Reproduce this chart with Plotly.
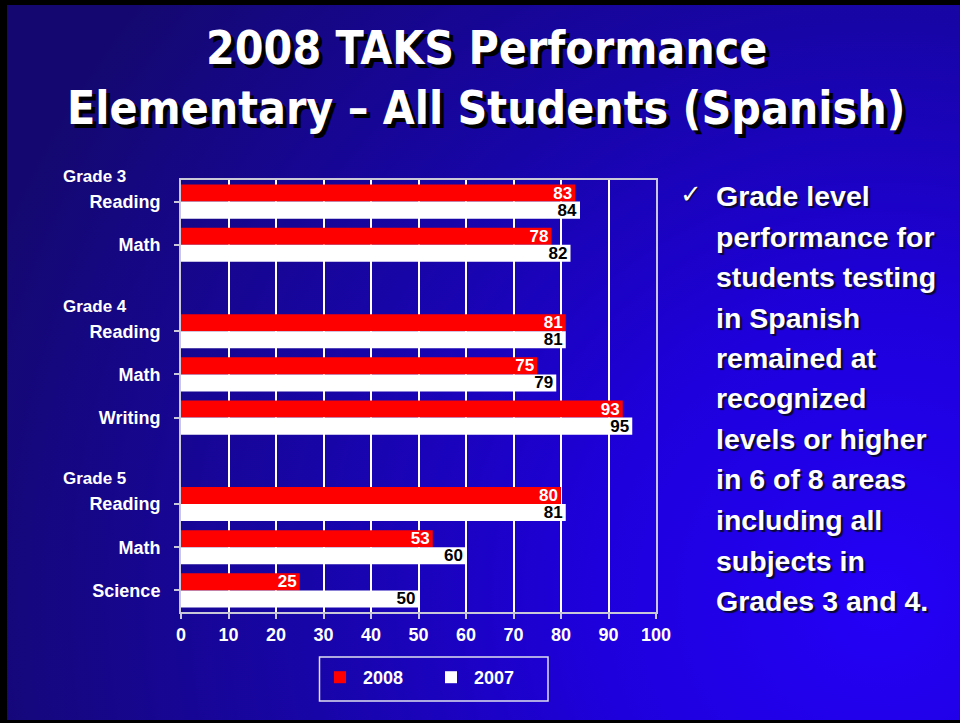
import base64
import plotly.graph_objects as go

# ---------------- data ----------------
subjects = ["Reading", "Math", None, "Reading", "Math", "Writing", None, "Reading", "Math", "Science"]
grade_labels = ["Grade 3", "Grade 4", "Grade 5"]
grade_first_slot = [0, 3, 7]
vals_2008 = [83, 78, None, 81, 75, 93, None, 80, 53, 25]
vals_2007 = [84, 82, None, 81, 79, 95, None, 81, 60, 50]
series_names = ["2008", "2007"]
x_ticks = [0, 10, 20, 30, 40, 50, 60, 70, 80, 90, 100]
title_lines = ["2008 TAKS Performance", "Elementary \u2013 All Students (Spanish)"]
bullet_lines = ["Grade level", "performance for", "students testing", "in Spanish",
                "remained at", "recognized", "levels or higher", "in 6 of 8 areas",
                "including all", "subjects in", "Grades 3 and 4."]

# ---------------- layout geometry ----------------
FW, FH = 960, 723
L, R, T, B = 181, 656, 180, 612
W, PH = R - L, B - T


def px(x):
    return (x - L) / W


def py(y):
    return (B - y) / PH


n_slots = len(subjects)
slots = list(range(n_slots))
tick_pos = [i for i, s in zip(slots, subjects) if s]
tick_txt = [s for s in subjects if s]

bold = "Liberation Sans, Arial, sans-serif"

fig = go.Figure()
fig.add_trace(go.Bar(
    name=series_names[0], y=slots, x=vals_2008, orientation="h",
    marker=dict(color="#ff0000", line=dict(width=0)),
    text=[str(v) if v is not None else "" for v in vals_2008],
    textposition="inside", insidetextanchor="end", textangle=0,
    textfont=dict(color="white", size=17, family=bold, weight="bold"),
    hoverinfo="skip",
))
fig.add_trace(go.Bar(
    name=series_names[1], y=slots, x=vals_2007, orientation="h",
    marker=dict(color="#ffffff", line=dict(width=0)),
    text=[str(v) if v is not None else "" for v in vals_2007],
    textposition="inside", insidetextanchor="end", textangle=0,
    textfont=dict(color="black", size=17, family=bold, weight="bold"),
    hoverinfo="skip",
))

# background gradient (no text)
svg = f'''<svg xmlns="http://www.w3.org/2000/svg" width="{FW}" height="{FH}" viewBox="0 0 {FW} {FH}" preserveAspectRatio="none">
<defs><radialGradient id="g" cx="880" cy="600" r="950" gradientUnits="userSpaceOnUse">
<stop offset="0" stop-color="#2400f6"/>
<stop offset="0.3" stop-color="#1e00dc"/>
<stop offset="0.6" stop-color="#1805a8"/>
<stop offset="1" stop-color="#140870"/>
</radialGradient></defs>
<rect width="{FW}" height="{FH}" fill="#000"/>
<rect x="7" y="5" width="{FW-7}" height="{FH-8}" fill="url(#g)"/>
</svg>'''
src = "data:image/svg+xml;base64," + base64.b64encode(svg.encode()).decode()

annotations = []
# title
for txt, cy in zip(title_lines, [48, 108]):
    annotations.append(dict(
        text=txt, xref="paper", yref="paper", x=px(486), y=py(cy),
        xanchor="center", yanchor="middle", showarrow=False,
        font=dict(family="Liberation Sans Narrow, DejaVu Sans Condensed, Arial Narrow, sans-serif",
                  size=46, color="white", weight="bold", shadow="4px 4px 0px #000000"),
    ))
# grade headers (paper coordinates derived from the slot index)
for g, s in zip(grade_labels, grade_first_slot):
    annotations.append(dict(
        text=g, xref="paper", yref="paper", x=px(61),
        y=1 - (s - 0.58 + 0.5) / n_slots,
        xanchor="left", yanchor="middle", showarrow=False,
        font=dict(family=bold, size=17, color="white", weight="bold"),
    ))
# bullet text
line_y = [196, 237, 277, 318, 358, 398, 439, 479, 520, 561, 601]
for txt, cy in zip(bullet_lines, line_y):
    annotations.append(dict(
        text=txt, xref="paper", yref="paper", x=px(714), y=py(cy),
        xanchor="left", yanchor="middle", showarrow=False,
        font=dict(family=bold, size=28.5, color="white", weight="bold",
                  shadow="2px 2px 1px #0a0a30"),
    ))
annotations.append(dict(
    text="\u2713", xref="paper", yref="paper", x=px(691), y=py(194),
    xanchor="center", yanchor="middle", showarrow=False,
    font=dict(family="DejaVu Sans, sans-serif", size=26, color="white",
              shadow="1px 1px 1px #0a0a30"),
))

fig.update_layout(
    width=FW, height=FH,
    margin=dict(l=L, r=FW - R, t=T, b=FH - B, autoexpand=False),
    paper_bgcolor="#000000", plot_bgcolor="rgba(0,0,0,0)",
    barmode="group", bargap=0.21, bargroupgap=0,
    uniformtext=dict(minsize=17, mode="show"),
    showlegend=True,
    legend=dict(orientation="h", x=px(317), y=py(659), xanchor="left", yanchor="top",
                bgcolor="rgba(0,0,0,0)", borderwidth=0, entrywidth=60, itemwidth=36,
                font=dict(family=bold, size=18, color="white", weight="bold"),
                traceorder="normal"),
    xaxis=dict(range=[0, 100], tickvals=x_ticks, ticktext=[str(t) for t in x_ticks],
               showgrid=True, gridcolor="#ffffff", gridwidth=1.5,
               showline=True, linecolor="#c8c8d8", linewidth=2, mirror=True,
               ticks="outside", ticklen=5, tickcolor="#c8c8d8", tickwidth=1.5,
               tickfont=dict(family=bold, size=18, color="white", weight="bold"),
               zeroline=False, fixedrange=True),
    yaxis=dict(range=[n_slots - 0.5, -0.5], tickvals=tick_pos, ticktext=tick_txt,
               showgrid=False, showline=True, linecolor="#c8c8d8", linewidth=2, mirror=True,
               ticks="outside", ticklen=5, tickcolor="#c8c8d8", tickwidth=1.5,
               ticklabelstandoff=10,
               tickfont=dict(family=bold, size=18, color="white", weight="bold"),
               zeroline=False, fixedrange=True),
    images=[dict(source=src, xref="paper", yref="paper", x=px(0), y=py(0),
                 sizex=FW / W, sizey=FH / PH, sizing="stretch", layer="below",
                 xanchor="left", yanchor="top")],
    shapes=[dict(type="rect", xref="paper", yref="paper",
                 x0=px(319.5), x1=px(548), y0=py(657), y1=py(701),
                 line=dict(color="#e0e0f0", width=1.5), fillcolor="rgba(0,0,0,0)")],
    annotations=annotations,
)

fig.write_html("out.html", config={"displayModeBar": False},
               post_script="document.body.style.margin='0';document.body.style.background='#000';")
